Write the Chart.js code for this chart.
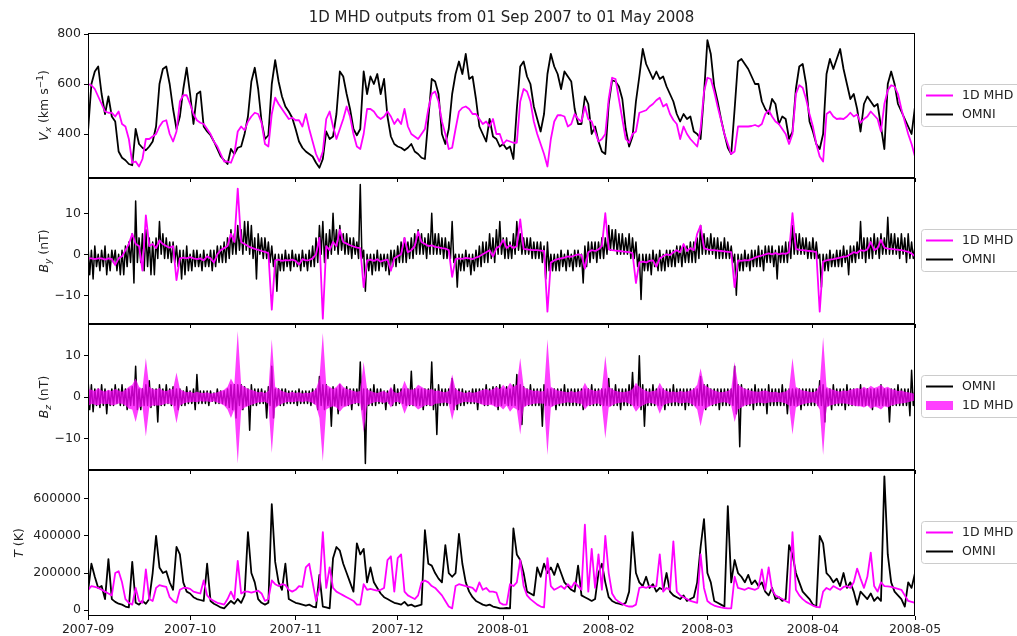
<!DOCTYPE html>
<html>

<head>
    <meta charset="UTF-8">
    <title>1D MHD outputs</title>
    <style>
        body { margin: 0; background: #fff; }
        #wrap { position: relative; width: 1017px; height: 636px; }
        #wrap canvas { position: absolute; left: 0; top: 0; }
    </style>
</head>

<body>
    <div id="wrap">
        <canvas id="vxChart" width="1017" height="636"></canvas>
        <canvas id="byChart" width="1017" height="636"></canvas>
        <canvas id="bzChart" width="1017" height="636"></canvas>
        <canvas id="tChart" width="1017" height="636"></canvas>
    </div>
    <script src="https://cdn.jsdelivr.net/npm/chart.js"></script>
    <script>
        // daily samples, day 0 = 2007-09-01, day 243 = 2008-05-01
        const monthStarts = [0, 30, 61, 91, 122, 153, 182, 213, 243];
        const monthLabels = ['2007-09', '2007-10', '2007-11', '2007-12', '2008-01', '2008-02', '2008-03', '2008-04', '2008-05'];

        const vxTicks = [400, 600, 800];
        const bTicks = [-10, 0, 10];
        const tTicks = [0, 200000, 400000, 600000];

        // Vx (km/s)
        const vxOmni = [
            410, 600, 650, 670, 560, 480, 550, 470, 450, 330,
            305, 295, 280, 275, 420, 360, 345, 335, 350, 370,
            430, 600, 660, 670, 600, 500, 420, 470, 580, 665,
            560, 440, 560, 570, 430, 410, 395, 370, 340, 310,
            295, 280, 340, 320, 345, 350, 400, 470, 610, 665,
            580, 450, 380, 395, 600, 695, 610, 550, 510, 490,
            465, 420, 370, 345, 330, 320, 310, 285, 265, 300,
            410, 380, 390, 480, 650, 630, 560, 500, 420, 395,
            420, 650, 560, 630, 600, 640, 560, 620, 470, 390,
            360, 350, 345, 335, 345, 360, 330, 320, 305, 300,
            460, 620, 610, 560, 400, 360, 420, 560, 640, 690,
            640, 720, 620, 630, 540, 430, 400, 370, 460, 390,
            380, 350, 360, 340, 350, 300, 500, 670, 690, 630,
            600, 510, 460, 410, 480, 640, 720, 670, 640, 580,
            650, 630, 610, 500, 440, 440, 550, 520, 400, 430,
            370, 330, 320, 520, 615, 610, 590, 540, 420, 350,
            390, 530, 630, 740, 680, 650, 620, 650, 620, 630,
            590, 560, 530, 480, 450, 480, 460, 470, 410, 400,
            380, 560, 775, 720, 590, 530, 460, 400, 345, 320,
            500, 690, 700, 680, 660, 630, 600, 600, 530, 500,
            480, 540, 520, 440, 470, 460, 380, 410, 580, 670,
            680, 600, 450, 410, 360, 340, 400, 640, 700, 660,
            700, 740, 660, 600, 540, 560, 500, 410, 520, 550,
            530, 510, 520, 430, 340, 600, 650, 600, 520, 490,
            460, 430, 400, 510
        ];
        const vxMhd = [
            600, 595, 580, 550, 520, 490, 485, 485, 470, 490,
            440, 430, 380, 285, 290, 270, 300, 380, 380, 390,
            400, 430, 450, 455, 400, 370, 410, 530, 555, 555,
            520, 480, 455, 445, 440, 420, 400, 370, 350, 320,
            290, 290, 285, 320, 410, 430, 415, 450, 470, 485,
            480, 445, 360, 350, 480, 545, 520, 500, 480, 460,
            465, 455, 455, 430, 480, 420, 370, 320, 290, 330,
            460, 490, 430, 380, 420, 460, 510, 470, 400, 350,
            340, 400, 500, 500, 490, 470, 460, 470, 490, 470,
            440, 460, 440, 500, 430, 400, 390, 380, 400, 420,
            500, 560, 570, 530, 450, 400, 340, 345, 420, 490,
            505, 510, 500, 480, 480, 460, 440, 450, 430, 460,
            400, 400, 360, 375, 370, 365, 365, 530, 580, 570,
            530, 450, 400, 360, 320, 270, 380, 450, 475, 475,
            470, 430, 440, 480, 460, 450, 510, 460, 450, 410,
            370, 380, 400, 540, 625, 620, 540, 460, 380, 365,
            400, 410, 485, 490, 495, 510, 520, 535, 545, 510,
            520, 480, 456, 440, 380, 430, 400, 380, 365, 350,
            420, 570, 625, 620, 570, 510, 456, 400, 360, 320,
            330, 430, 430, 430, 430, 432, 436, 430, 440, 480,
            495, 470, 450, 440, 420, 400, 360, 400, 560, 595,
            585, 540, 480, 430, 360, 310, 290, 480, 490, 470,
            460, 462, 460, 470, 485, 470, 478, 445, 460, 470,
            490, 475, 460, 410, 520, 575, 595, 590, 560, 500,
            450, 400, 360, 310
        ];

        // By (nT): OMNI as daily upper / lower extent of the noisy trace
        const byOmniHi = [
            2, 1, 2, 0, 1, 2, 0, 1, 1, 0,
            1, 2, 3, 5, 13, 4, 5, 6, 4, 3,
            4, 8, 5, 4, 3, 3, 2, 1, 1, 2,
            0, 1, 1, 0, 1, 0, 1, 1, 2, 2,
            3, 4, 6, 5, 7, 6, 8, 8, 7, 4,
            5, 4, 4, 3, 2, 0, 0, 0, 1, 0,
            1, 0, 0, 1, 0, 1, 2, 4, 7, 8,
            5, 6, 10, 6, 7, 5, 5, 4, 4, 3,
            17, 1, 0, 0, 0, 1, 0, 0, 0, 1,
            1, 2, 3, 4, 3, 4, 5, 6, 5, 4,
            5, 10, 5, 5, 4, 4, 3, 8, 0, 0,
            0, 1, 0, 0, 1, 2, 3, 3, 5, 4,
            6, 8, 4, 4, 3, 5, 8, 5, 4, 4,
            4, 3, 3, 3, 2, 3, 0, 0, 0, 1,
            0, 1, 0, 1, 1, 0, 2, 3, 3, 3,
            3, 4, 4, 7, 6, 6, 5, 5, 4, 5,
            4, 3, 0, 0, 0, 0, 1, 0, 1, 0,
            1, 1, 1, 2, 2, 2, 2, 3, 3, 4,
            7, 5, 4, 5, 4, 4, 3, 4, 3, 2,
            0, 0, 0, 1, 0, 1, 1, 2, 1, 2,
            2, 2, 1, 2, 2, 3, 3, 7, 5, 5,
            4, 4, 3, 4, 3, 0, 0, 0, 1, 0,
            1, 1, 2, 1, 2, 2, 3, 8, 4, 4,
            4, 5, 4, 5, 4, 9, 5, 5, 4, 5,
            4, 5, 3, 2
        ];
        const byOmniLo = [
            -5, -6, -3, -4, -3, -5, -4, -2, -4, -5,
            -5, -3, -2, -7, -2, -2, -4, -3, -5, -5,
            -1, 0, -1, -1, -2, -2, -3, -6, -5, -4,
            -4, -3, -3, -4, -3, -3, -4, -3, -2, -2,
            -2, -1, 0, 0, 1, 0, 1, 0, -1, -6,
            0, -1, -1, -2, -3, -9, -4, -4, -3, -4,
            -3, -3, -4, -3, -4, -3, -3, -2, 0, -2,
            -1, 0, 1, 0, 1, 0, 0, -1, 0, -1,
            -1, -9, -4, -5, -4, -4, -3, -4, -5, -3,
            -3, -2, -2, -2, -1, -1, 0, 0, 0, -1,
            0, 0, 0, 0, -1, -1, -1, -2, -8, -4,
            -4, -3, -5, -4, -3, -3, -2, -2, -1, -2,
            0, 0, -1, -1, -1, 0, 1, 0, 0, 0,
            -1, -1, -1, -2, -6, -4, -4, -4, -4, -3,
            -4, -3, -4, -3, -3, -7, -3, -2, -1, -2,
            -1, -1, 0, 1, 1, 0, 0, 0, 0, -1,
            -1, -3, -11, -4, -4, -5, -3, -4, -4, -4,
            -3, -3, -3, -2, -3, -2, -2, -2, -2, -1,
            0, 0, 0, 0, -1, -1, -1, -1, -1, -2,
            -10, -4, -4, -3, -4, -3, -3, -3, -4, -2,
            -2, -3, -6, -2, -2, -2, -1, 0, 0, 0,
            0, -1, -1, -1, -1, -8, -4, -4, -3, -3,
            -3, -3, -2, -5, -2, -2, -1, -1, -2, -1,
            -1, 0, -1, 0, 0, 0, 0, 0, -1, 0,
            -2, -1, -1, -1
        ];
        const byMhd = [
            -1, -1, -1.2, -1, -1, -1.3, -1, -1.2, -2.6, -1,
            -0.5, 1, 2.5, 5, 2.5, 2, -4, 9.5, 2, 2.5,
            1.5, 3.4, 2.5, 2, 1.6, 2, -6.3, -1, -0.8, -1,
            -0.7, -1, -1.2, -1, -1.5, -0.5, -1, -2, 0, 1,
            1.5, 2, 5, 3, 16, 3, 2.5, 2, 1.6, 1.3,
            1.1, 0.8, 0.6, 0.3, -13.5, -1.5, -1.3, -1.6, -1.4, -1.5,
            -1.3, -1.6, -2.5, -1.2, -1.5, -1.4, -1, 0, 4, -15.7,
            2, 1, 3, 2, 6, 3, 2.6, 2.2, 1.9, 1.6,
            1.5, -8, -1.5, -1.3, -1.6, -1.2, -1.8, -1.5, -1.3, -4,
            -1, -0.5, 0, 4, 0.5, 1, 2, 5.5, 3, 2.5,
            2, 2.2, 1.8, 1.7, 1.5, 1.4, 1, -5.5, -1.2, -1,
            -1.1, -0.9, -1, -1.2, -0.8, -0.5, 0, 0.5, 1, -0.5,
            1.5, 2, 3.5, 1.5, 2.2, 1.5, 2, 8.5, 1.3, 1.2,
            1.1, 1, 1, 0.9, 0.8, -14, -2, -1.5, -1.2, -1,
            -0.8, -0.5, -0.6, -0.3, 0, -0.2, -3.5, 0.5, 1, 0.8,
            1.2, 2, 10, 1.2, 1, 0.9, 0.8, 0.7, 0.6, 0.5,
            0.3, -7, -2, -1.8, -2, -1.6, -1.5, -3, -1, -0.5,
            0, -0.2, 0.5, 1, 0.5, 2.5, 0.8, 1.5, 1, 5,
            7, 1.5, 1.2, 1, 1, 0.9, 0.8, 0.7, 0.6, 0.5,
            -8, -1.5, -1.6, -1.4, -1.5, -1.2, -0.8, -0.5, -0.3, 0,
            0.2, 0, 0.3, 0, 0.2, 0.1, 0.5, 10, 1.3, 1.1,
            1, 0.9, 0.8, 0.7, 0.5, -14, -1.8, -1.5, -1.3, -1.2,
            -1, -0.8, -0.6, -0.5, 0, 0.5, 0.3, 1, 0.8, 1.2,
            3, 1, 1.5, 3.5, 1.6, 1.4, 1.3, 1.2, 1.1, 1,
            0.8, 0.6, 0.2, -0.5
        ];

        // Bz (nT): OMNI upper / lower extent, 1D MHD as a filled band
        const bzOmniHi = [
            4.5, 3, 2, 2, 3, 2, 1.5, 2, 3, 2,
            3, 2, 2, 2.5, 7.5, 2, 2, 3, 4, 2,
            2, 3, 2, 3, 2, 2.5, 2, 2, 1.5, 2.5,
            1.5, 2, 5.5, 1.5, 1.5, 1.5, 1.5, 1, 2, 1.5,
            1.5, 2, 3, 3, 3, 3, 2.5, 2, 3, 2,
            2, 2, 1.5, 2.5, 7.5, 2, 2, 2, 2, 1.5,
            1.5, 1.5, 2, 1.5, 1.5, 1.5, 2, 2, 5, 3,
            3, 2, 2.5, 2, 3, 2, 2.5, 2, 2, 2,
            8.5, 2, 2, 2, 3, 2, 2, 1.5, 1.5, 2,
            3, 2, 2, 2, 2, 6.3, 2, 2, 2, 2,
            2, 8.5, 2, 3, 2, 2, 2, 4.5, 2, 2,
            2, 1.5, 1.5, 2, 2, 2, 2, 3, 2, 2.5,
            2.5, 3, 2, 2.5, 2, 3, 5.5, 3, 2.5, 2,
            3, 2, 2, 2, 3, 2, 2, 2, 2, 2,
            3, 2, 2, 2, 2, 2, 2, 2, 3, 2,
            2, 2, 2, 4.5, 2, 3, 2, 2, 2, 3,
            6, 2.5, 10, 3, 2, 2, 3, 2, 2, 2,
            2, 2, 3, 2, 2, 2, 2, 2, 2, 2,
            5, 3, 3, 2, 2, 2, 2, 2, 2, 2,
            7.5, 3, 3, 2, 2, 2, 3, 2, 2, 2,
            3, 2, 2, 2, 3, 2, 2, 2, 2, 2,
            2, 2, 2, 2, 2, 4, 3, 2, 2, 3,
            2, 2, 2, 3, 2, 2, 2, 3, 2, 2,
            2, 2, 2, 3, 2, 2, 2, 2, 3, 2,
            2, 2, 6.5, 2
        ];
        const bzOmniLo = [
            -3, -3.5, -2, -2.5, -2, -4, -2, -2, -1.5, -2,
            -2, -3, -2, -2, -3, -3, -2, -2, -2.5, -2,
            -6, -2, -2, -1.5, -2, -2, -3, -2, -2, -1.5,
            -1.5, -3, -1.5, -1.5, -1.5, -2, -1, -1.5, -1.5, -1.5,
            -2, -2.5, -3, -5, -2, -3, -2, -8, -2, -2,
            -1.5, -1.5, -5, -2, -5, -2, -2, -2, -1.5, -1.5,
            -1.5, -2, -1.5, -1.5, -1.5, -2, -1.5, -3, -2, -3,
            -2, -7, -2, -4, -2, -2, -2, -3, -1.5, -2,
            -3, -16, -2, -2, -2, -1.5, -1.5, -3, -1.5, -2,
            -2, -1.5, -1.5, -2, -2, -2, -2, -2, -3, -2,
            -2, -3, -9, -2, -2, -2, -1.5, -3, -3, -2,
            -2, -1.5, -1.5, -1.5, -3, -1.5, -2, -2, -1.5, -2,
            -3, -2, -1.5, -2, -2, -2, -3, -6.6, -2, -2,
            -2, -2, -2, -7, -2, -2, -2, -3, -2, -2,
            -2, -2, -2, -2, -2, -3, -2, -2, -2, -2,
            -2, -2, -2, -2, -2, -2, -3, -2, -2, -2,
            -2, -2, -3, -7, -2, -2, -2, -2, -2, -3,
            -2, -2, -2, -2, -2, -3, -2, -2, -2, -2,
            -2, -3, -2, -2, -2, -3, -2, -2, -2, -2,
            -4, -12, -2, -2, -2, -3, -2, -2, -2, -4,
            -2, -2, -2, -2, -2, -4, -2, -2, -2, -3,
            -2, -2, -2, -2, -2, -2, -6, -2, -3, -2,
            -2, -2, -3, -2, -2, -2, -2, -2, -2, -2,
            -3, -2, -2, -2, -2, -6, -2, -2, -2, -2,
            -2, -4.5, -2, -1.5
        ];
        const bzMhdHi = [
            2, 1.8, 1.5, 2.2, 1.6, 1.4, 1.8, 1.5, 2, 1.6,
            1.3, 1.8, 2.5, 3, 4.5, 2.5, 2, 9.5, 2.5, 2,
            1.8, 2.2, 1.6, 1.5, 1.8, 2, 6, 2, 1.5, 1.2,
            1.4, 1, 1.3, 1.1, 1, 1.2, 0.9, 1, 1.2, 1.5,
            1.8, 2.5, 4.5, 3, 16, 3, 2.5, 2, 1.8, 1.5,
            1.2, 1.3, 1, 1.5, 14, 2.5, 2, 1.5, 1.2, 1,
            1.3, 1, 1.2, 0.9, 1.1, 1, 1.3, 2, 4.5, 15.5,
            3, 2.5, 2, 2.5, 3.5, 2.5, 2, 1.8, 1.5, 1.3,
            1.5, 8.5, 2, 1.5, 1.2, 1, 1.3, 1.5, 1, 2.5,
            1.2, 1, 1.5, 4, 2, 1.8, 2, 3, 2.5, 2,
            1.8, 2, 1.5, 1.6, 1.3, 1.2, 1.5, 5.5, 2, 1.5,
            1.2, 1, 1.3, 1.1, 1.2, 1.5, 1.8, 2, 1.6, 2,
            2.5, 2, 3, 2, 3.5, 2.5, 3, 9.5, 2.5, 2,
            1.8, 1.5, 1.6, 1.4, 1.5, 14, 2.5, 2, 1.6, 1.5,
            1.3, 1.2, 1.5, 1.2, 1.4, 1.6, 3.5, 2, 1.8, 1.5,
            1.6, 2, 10, 2.5, 2, 1.5, 1.4, 1.2, 1.3, 1.5,
            2, 3.5, 2.5, 2, 1.5, 1.3, 1.5, 1.6, 3.5, 2,
            1.5, 1.3, 1.4, 1.2, 1.5, 1.3, 1.4, 1.6, 2, 3,
            7, 3, 2.5, 2, 1.6, 1.4, 1.2, 1.3, 1.5, 2,
            8.5, 3, 2.5, 2, 1.8, 1.5, 1.4, 1.3, 1.5, 1.6,
            1.4, 1.2, 1.3, 1.1, 1.2, 1.4, 2, 9.5, 2.5, 2,
            1.6, 1.5, 1.3, 1.2, 1.5, 3, 14.5, 2.5, 2, 1.8,
            1.5, 1.4, 1.6, 1.5, 1.8, 2, 2.2, 2, 2.5, 2,
            2.8, 2.2, 2.5, 3, 2.2, 2.5, 2, 1.8, 1.5, 1.6,
            1.3, 1.2, 1, 0.8
        ];
        const bzMhdLo = [
            -2.2, -1.6, -1.8, -2, -1.5, -1.7, -1.6, -2, -1.8, -1.5,
            -1.6, -2, -2.8, -3, -6, -2.5, -2.2, -9.5, -2.5, -2,
            -2, -2, -1.8, -1.5, -1.6, -2, -6.3, -2, -1.6, -1.3,
            -1.2, -1.1, -1.2, -1, -1.1, -1, -1.2, -1, -1.3, -1.6,
            -2, -3, -5, -3, -16, -3.2, -2.5, -2.2, -1.8, -1.6,
            -1.3, -1.2, -1.1, -1.6, -13.5, -2.6, -2, -1.6, -1.3, -1.1,
            -1.2, -1.1, -1, -1.2, -1, -1.1, -1.4, -2, -5, -15.5,
            -3, -2.5, -2.2, -2.5, -3.5, -2.5, -2.2, -1.8, -1.6, -1.4,
            -1.5, -8.5, -2, -1.6, -1.3, -1.1, -1.2, -1.4, -1.1, -2.5,
            -1.3, -1.1, -1.5, -4, -2, -1.8, -2.2, -3, -2.5, -2,
            -1.8, -2.2, -1.6, -1.5, -1.4, -1.3, -1.6, -5.5, -2, -1.6,
            -1.3, -1.1, -1.2, -1.2, -1.3, -1.5, -1.8, -2, -1.8, -2,
            -2.5, -2.2, -3, -2, -3.5, -2.5, -3, -9, -2.5, -2,
            -1.8, -1.6, -1.5, -1.5, -1.6, -14, -2.5, -2, -1.7, -1.5,
            -1.4, -1.2, -1.4, -1.3, -1.5, -1.6, -3, -2, -1.8, -1.6,
            -1.5, -2, -10, -2.5, -2, -1.6, -1.4, -1.3, -1.2, -1.5,
            -2, -3.5, -2.5, -2, -1.6, -1.4, -1.5, -1.8, -4, -2,
            -1.6, -1.4, -1.3, -1.2, -1.5, -1.4, -1.3, -1.5, -2, -3,
            -7, -3, -2.5, -2, -1.7, -1.5, -1.3, -1.2, -1.4, -2,
            -6, -3, -2.5, -2, -1.8, -1.6, -1.5, -1.3, -1.4, -1.5,
            -1.3, -1.2, -1.2, -1.1, -1.3, -1.5, -2, -9, -2.5, -2,
            -1.7, -1.5, -1.4, -1.2, -1.6, -3, -14, -2.5, -2, -1.8,
            -1.6, -1.5, -1.5, -1.6, -1.8, -2, -2.2, -2.2, -2.5, -2,
            -2.8, -2.3, -2.5, -3, -2.2, -2.5, -2, -1.8, -1.6, -1.5,
            -1.4, -1.2, -1, -0.8
        ];

        // T (K)
        const tOmni = [
            100000, 250000, 180000, 120000, 130000, 60000, 275000, 60000, 45000, 35000,
            30000, 20000, 15000, 260000, 40000, 30000, 50000, 35000, 60000, 200000,
            400000, 230000, 200000, 210000, 150000, 110000, 340000, 300000, 150000, 100000,
            90000, 70000, 60000, 55000, 50000, 250000, 50000, 35000, 25000, 15000,
            10000, 30000, 50000, 35000, 60000, 40000, 80000, 420000, 200000, 150000,
            60000, 40000, 30000, 40000, 570000, 260000, 150000, 110000, 250000, 60000,
            50000, 40000, 35000, 30000, 25000, 30000, 20000, 15000, 190000, 20000,
            15000, 10000, 280000, 340000, 320000, 250000, 200000, 150000, 100000, 360000,
            300000, 330000, 150000, 230000, 150000, 120000, 90000, 70000, 60000, 50000,
            40000, 35000, 30000, 45000, 25000, 30000, 20000, 25000, 30000, 430000,
            250000, 240000, 200000, 170000, 150000, 350000, 200000, 180000, 200000, 410000,
            250000, 150000, 100000, 70000, 50000, 40000, 30000, 25000, 30000, 20000,
            15000, 10000, 10000, 12000, 10000, 440000, 300000, 270000, 200000, 100000,
            90000, 80000, 230000, 180000, 250000, 200000, 230000, 190000, 250000, 200000,
            150000, 130000, 110000, 100000, 240000, 80000, 70000, 60000, 50000, 60000,
            200000, 250000, 150000, 70000, 50000, 40000, 35000, 30000, 40000, 100000,
            420000, 200000, 150000, 130000, 180000, 120000, 140000, 100000, 120000, 110000,
            200000, 100000, 80000, 70000, 60000, 80000, 50000, 60000, 70000, 150000,
            340000, 490000, 200000, 150000, 50000, 40000, 30000, 20000, 560000, 150000,
            270000, 200000, 180000, 150000, 190000, 140000, 160000, 130000, 150000, 100000,
            80000, 120000, 60000, 70000, 50000, 60000, 350000, 300000, 200000, 150000,
            100000, 80000, 60000, 30000, 20000, 400000, 360000, 200000, 180000, 150000,
            170000, 130000, 200000, 120000, 150000, 100000, 30000, 100000, 80000, 60000,
            90000, 50000, 70000, 50000, 720000, 300000, 150000, 100000, 80000, 60000,
            20000, 150000, 120000, 200000
        ];
        const tMhd = [
            110000, 130000, 125000, 120000, 110000, 100000, 90000, 80000, 200000, 210000,
            150000, 60000, 40000, 30000, 120000, 50000, 40000, 220000, 60000, 50000,
            120000, 135000, 130000, 125000, 70000, 50000, 40000, 110000, 120000, 120000,
            115000, 100000, 95000, 90000, 160000, 80000, 60000, 50000, 40000, 35000,
            30000, 60000, 100000, 60000, 265000, 90000, 100000, 100000, 95000, 100000,
            105000, 90000, 50000, 60000, 160000, 140000, 130000, 140000, 135000, 110000,
            100000, 110000, 130000, 125000, 230000, 250000, 150000, 50000, 120000, 420000,
            120000, 230000, 120000, 100000, 90000, 80000, 70000, 60000, 50000, 30000,
            30000, 140000, 110000, 115000, 110000, 105000, 110000, 120000, 270000, 290000,
            100000, 280000, 300000, 100000, 80000, 70000, 60000, 80000, 150000, 160000,
            150000, 130000, 120000, 100000, 80000, 50000, 20000, 10000, 130000, 140000,
            135000, 130000, 125000, 120000, 100000, 150000, 110000, 120000, 100000, 100000,
            95000, 40000, 30000, 30000, 140000, 130000, 150000, 270000, 130000, 80000,
            60000, 45000, 30000, 20000, 15000, 280000, 130000, 110000, 120000, 130000,
            115000, 140000, 120000, 150000, 130000, 110000, 460000, 100000, 330000, 120000,
            300000, 110000, 400000, 200000, 90000, 60000, 45000, 35000, 25000, 20000,
            20000, 30000, 120000, 125000, 120000, 130000, 125000, 130000, 300000, 100000,
            120000, 110000, 370000, 100000, 80000, 70000, 60000, 50000, 45000, 40000,
            300000, 120000, 50000, 35000, 25000, 20000, 15000, 12000, 10000, 10000,
            180000, 120000, 115000, 110000, 120000, 115000, 110000, 120000, 220000, 110000,
            230000, 110000, 80000, 70000, 60000, 50000, 40000, 420000, 110000, 80000,
            60000, 45000, 35000, 25000, 18000, 15000, 100000, 120000, 110000, 130000,
            120000, 110000, 125000, 130000, 120000, 150000, 224000, 170000, 120000, 180000,
            310000, 130000, 100000, 150000, 130000, 128000, 125000, 120000, 115000, 110000,
            80000, 50000, 45000, 40000
        ];

        const MAGENTA = '#ff00ff';
        const BAND = 'rgba(255, 0, 255, 0.75)';
        const TEXT = '#222';
        const FONT = '"DejaVu Sans", sans-serif';

        Chart.defaults.font.family = FONT;
        Chart.defaults.font.size = 12.5;
        Chart.defaults.color = TEXT;

        const dayIndex = vxOmni.map((_, i) => i);
        function pts(arr) {
            return arr.map((v, i) => ({ x: dayIndex[i], y: v }));
        }
        // noisy trace: upper value at the day, lower value half a day later
        function envelope(hi, lo) {
            const out = [];
            hi.forEach((v, i) => {
                out.push({ x: dayIndex[i], y: v });
                out.push({ x: dayIndex[i] + 0.5, y: lo[i] });
            });
            return out;
        }

        function partFont(p) {
            return (p.it ? 'italic ' : '') + (p.small ? '9px ' : '12.5px ') + FONT;
        }

        // frame, legend box and y label (matplotlib look)
        const panelDecor = {
            id: 'panelDecor',
            afterDraw(chart, args, opts) {
                const ctx = chart.ctx;
                const a = chart.chartArea;
                const mid = (a.top + a.bottom) / 2;
                ctx.save();

                ctx.strokeStyle = '#000';
                ctx.lineWidth = 1;
                ctx.strokeRect(Math.round(a.left) + 0.5, Math.round(a.top) + 0.5,
                    Math.round(a.right - a.left) - 1, Math.round(a.bottom - a.top) - 1);

                if (opts.title) {
                    ctx.font = '15px ' + FONT;
                    ctx.fillStyle = TEXT;
                    ctx.textAlign = 'center';
                    ctx.textBaseline = 'middle';
                    ctx.fillText(opts.title, (a.left + a.right) / 2, 18);
                }

                // legend
                const boxTop = Math.round(mid - 22) + 0.5;
                ctx.beginPath();
                if (ctx.roundRect) ctx.roundRect(921.5, boxTop, 110, 42, 3);
                else ctx.rect(921.5, boxTop, 110, 42);
                ctx.fillStyle = 'rgba(255,255,255,0.8)';
                ctx.fill();
                ctx.strokeStyle = '#cccccc';
                ctx.lineWidth = 1;
                ctx.stroke();
                ctx.font = '12.5px ' + FONT;
                ctx.textAlign = 'left';
                ctx.textBaseline = 'middle';
                opts.legend.forEach((item, i) => {
                    const y = boxTop + 11 + i * 19;
                    if (item.patch) {
                        ctx.fillStyle = item.color;
                        ctx.fillRect(926, y - 4.5, 27, 9);
                    } else {
                        ctx.strokeStyle = item.color;
                        ctx.lineWidth = 2;
                        ctx.beginPath();
                        ctx.moveTo(926, y);
                        ctx.lineTo(953, y);
                        ctx.stroke();
                    }
                    ctx.fillStyle = TEXT;
                    ctx.fillText(item.label, 962, y + 0.5);
                });

                // rotated y label with sub/superscripts
                ctx.translate(opts.labelX, mid);
                ctx.rotate(-Math.PI / 2);
                let total = 0;
                opts.ylabel.forEach(p => {
                    ctx.font = partFont(p);
                    total += ctx.measureText(p.t).width;
                });
                let x = -total / 2;
                ctx.textAlign = 'left';
                ctx.textBaseline = 'alphabetic';
                ctx.fillStyle = TEXT;
                opts.ylabel.forEach(p => {
                    ctx.font = partFont(p);
                    ctx.fillText(p.t, x, 4.5 + (p.dy || 0));
                    x += ctx.measureText(p.t).width;
                });
                ctx.restore();
            }
        };

        function fmt(v) {
            return v < 0 ? '\u2212' + Math.abs(v) : String(v);
        }

        function makePanel(id, cfg) {
            const xh = cfg.showX ? 20 : 5;
            return new Chart(document.getElementById(id), {
                type: 'line',
                data: { datasets: cfg.datasets },
                options: {
                    responsive: false,
                    animation: false,
                    events: [],
                    parsing: false,
                    normalized: true,
                    layout: {
                        padding: { left: 0, right: 102, top: cfg.top, bottom: 636 - cfg.bottom - xh }
                    },
                    elements: {
                        point: { radius: 0 },
                        line: { tension: 0, borderJoinStyle: 'round', borderCapStyle: 'round' }
                    },
                    plugins: {
                        legend: { display: false },
                        tooltip: { enabled: false },
                        panelDecor: cfg.decor
                    },
                    scales: {
                        x: {
                            type: 'linear',
                            min: 0,
                            max: 243,
                            afterBuildTicks: (axis) => { axis.ticks = monthStarts.map(v => ({ value: v })); },
                            afterFit: (axis) => { axis.height = xh; },
                            ticks: {
                                display: cfg.showX,
                                autoSkip: false,
                                maxRotation: 0,
                                padding: 2,
                                callback: (v) => monthLabels[monthStarts.indexOf(v)]
                            },
                            grid: { drawOnChartArea: false, drawTicks: true, tickLength: 4, color: '#000' },
                            border: { display: false }
                        },
                        y: {
                            min: cfg.yMin,
                            max: cfg.yMax,
                            afterBuildTicks: (axis) => { axis.ticks = cfg.yTicks.map(v => ({ value: v })); },
                            afterFit: (axis) => { axis.width = 88; },
                            ticks: { padding: 3, callback: fmt },
                            grid: { drawOnChartArea: false, drawTicks: true, tickLength: 4, color: '#000' },
                            border: { display: false }
                        }
                    }
                },
                plugins: [panelDecor]
            });
        }

        const magLine = (arr) => ({ data: pts(arr), borderColor: MAGENTA, borderWidth: 1.8, order: 1 });
        const blackLine = (arr) => ({ data: pts(arr), borderColor: '#000', borderWidth: 1.8, order: 2 });
        const lineLegend = [
            { label: '1D MHD', color: MAGENTA },
            { label: 'OMNI', color: '#000' }
        ];

        makePanel('vxChart', {
            top: 33, bottom: 178, yMin: 224, yMax: 804, yTicks: vxTicks, showX: false,
            datasets: [magLine(vxMhd), blackLine(vxOmni)],
            decor: {
                title: '1D MHD outputs from 01 Sep 2007 to 01 May 2008',
                legend: lineLegend,
                labelX: 43,
                ylabel: [
                    { t: 'V', it: true },
                    { t: 'x', it: true, small: true, dy: 3 },
                    { t: ' (km s' },
                    { t: '\u22121', small: true, dy: -5 },
                    { t: ')' }
                ]
            }
        });

        makePanel('byChart', {
            top: 178, bottom: 324, yMin: -17, yMax: 18.6, yTicks: bTicks, showX: false,
            datasets: [
                magLine(byMhd),
                { data: envelope(byOmniHi, byOmniLo), borderColor: '#000', borderWidth: 1.5, order: 2 }
            ],
            decor: {
                legend: lineLegend,
                labelX: 43,
                ylabel: [
                    { t: 'B', it: true },
                    { t: 'y', it: true, small: true, dy: 3 },
                    { t: ' (nT)' }
                ]
            }
        });

        makePanel('bzChart', {
            top: 324, bottom: 470, yMin: -17.6, yMax: 17.7, yTicks: bTicks, showX: false,
            datasets: [
                { data: pts(bzMhdHi), borderColor: 'rgba(0,0,0,0)', borderWidth: 0, backgroundColor: BAND, fill: '+1', order: 1 },
                { data: pts(bzMhdLo), borderColor: 'rgba(0,0,0,0)', borderWidth: 0, fill: false, order: 1 },
                { data: envelope(bzOmniHi, bzOmniLo), borderColor: '#000', borderWidth: 1.5, order: 2 }
            ],
            decor: {
                legend: [
                    { label: 'OMNI', color: '#000' },
                    { label: '1D MHD', color: BAND, patch: true }
                ],
                labelX: 43,
                ylabel: [
                    { t: 'B', it: true },
                    { t: 'z', it: true, small: true, dy: 3 },
                    { t: ' (nT)' }
                ]
            }
        });

        makePanel('tChart', {
            top: 470, bottom: 616, yMin: -31000, yMax: 754000, yTicks: tTicks, showX: true,
            datasets: [magLine(tMhd), blackLine(tOmni)],
            decor: {
                legend: lineLegend,
                labelX: 18,
                ylabel: [
                    { t: 'T', it: true },
                    { t: ' (K)' }
                ]
            }
        });
    </script>
</body>

</html>
